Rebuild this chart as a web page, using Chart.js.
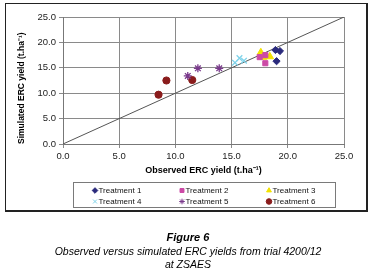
<!DOCTYPE html>
<html>
<head>
<meta charset="utf-8">
<script src="https://cdn.jsdelivr.net/npm/chart.js@4.4.1/dist/chart.umd.min.js"></script>
<style>
  html, body { margin:0; padding:0; background:#fff; }
  body { width:369px; height:276px; position:relative; overflow:hidden; font-family:"Liberation Sans", Arial, sans-serif; }
  #frame { position:absolute; left:5px; top:3px; width:360px; height:206px; border:1px solid #222; border-right-width:2px; border-bottom-width:2px; }
  canvas { position:absolute; left:0; top:0; }
  #caption { position:absolute; left:0; width:376px; top:231px; text-align:center; color:#000; font-style:italic; font-size:10.5px; line-height:13.5px; }
  #caption b { font-size:11px; }
</style>
</head>
<body>
<div id="frame"></div>
<canvas id="c" width="369" height="276"></canvas>
<div id="caption"><b>Figure 6</b><br>Observed versus simulated ERC yields from trial 4200/12<br>at ZSAES</div>
<script>
// ---- data ----
const treatments = ['Treatment 1','Treatment 2','Treatment 3','Treatment 4','Treatment 5','Treatment 6'];
const t1Observed  = [18.9, 19.3, 19.0];
const t1Simulated = [18.5, 18.3, 16.3];
const t2Observed  = [17.5, 18.0, 18.0];
const t2Simulated = [17.1, 17.5, 15.9];
const t3Observed  = [17.6, 17.8, 18.4];
const t3Simulated = [18.0, 17.1, 17.2];
const t4Observed  = [15.3, 15.7, 16.1];
const t4Simulated = [16.0, 16.9, 16.4];
const t5Observed  = [11.1, 12.0, 13.9];
const t5Simulated = [13.4, 14.9, 14.9];
const t6Observed  = [8.5, 9.2, 11.5];
const t6Simulated = [9.7, 12.5, 12.6];
const oneToOne    = [0, 25];
const tickLabels  = ['0.0','5.0','10.0','15.0','20.0','25.0'];

const FAM = '"Liberation Sans", Arial, sans-serif';
const pts = (xs, ys) => xs.map((x, i) => ({x, y: ys[i]}));

const styles = [
  {pointStyle:'rectRot',  color:'#2a2a7c', r:3.6},
  {pointStyle:'rect',     color:'#cc4aa6', r:3.6},
  {pointStyle:'triangle', color:'#f2e200', r:4.3},
  {pointStyle:'crossRot', color:'#7fd3ea', r:4},
  {pointStyle:'star',     color:'#7a3a8c', r:4},
  {pointStyle:'circle',   color:'#8a1c1c', r:3.6}
];
const series = [
  pts(t1Observed, t1Simulated), pts(t2Observed, t2Simulated), pts(t3Observed, t3Simulated),
  pts(t4Observed, t4Simulated), pts(t5Observed, t5Simulated), pts(t6Observed, t6Simulated)
];

const datasets = treatments.map((name, i) => ({
  type:'scatter', label:name, data:series[i],
  pointStyle:styles[i].pointStyle, pointRadius:styles[i].r,
  backgroundColor:styles[i].color, borderColor:styles[i].color,
  pointBorderWidth:(styles[i].pointStyle==='crossRot'||styles[i].pointStyle==='star')?1.3:1
}));
datasets.push({
  type:'line', label:'1:1', data:pts(oneToOne, oneToOne), hideLegend:true,
  borderColor:'#555', borderWidth:1, pointRadius:0, fill:false
});

const legendBox = {
  id:'legendBox',
  afterDraw(chart){
    const ctx = chart.ctx;
    ctx.save();
    ctx.strokeStyle = '#7a7a7a'; ctx.lineWidth = 1;
    ctx.strokeRect(73.5, 182.5, 262, 25);
    const colX = [95, 182, 269], rowY = [190.5, 201.5];
    let k = 0;
    chart.data.datasets.forEach(ds => {
      if (ds.hideLegend) return;
      const x = colX[k % 3], y = rowY[Math.floor(k / 3)];
      ctx.fillStyle = ds.backgroundColor; ctx.strokeStyle = ds.borderColor; ctx.lineWidth = 1;
      Chart.helpers.drawPoint(ctx, {pointStyle:ds.pointStyle, radius:2.8, borderWidth:1, rotation:0}, x, y);
      ctx.fillStyle = '#111';
      ctx.font = '8px ' + FAM;
      ctx.textBaseline = 'middle'; ctx.textAlign = 'left';
      ctx.fillText(ds.label, x + 3.5, y + 0.5);
      k++;
    });
    ctx.restore();
  }
};

new Chart(document.getElementById('c'), {
  data:{datasets},
  options:{
    responsive:false, animation:false,
    layout:{padding:{left:17, top:17, right:25, bottom:100}},
    plugins:{legend:{display:false}, tooltip:{enabled:false}},
    scales:{
      x:{
        type:'linear', min:0, max:25,
        ticks:{stepSize:5, callback:(v, i) => tickLabels[i], color:'#222', font:{family:FAM, size:9.5}, padding:3, maxRotation:0},
        grid:{color:'#8a8a8a', tickLength:4, lineWidth:1},
        border:{color:'#777'},
        title:{display:true, text:'Observed ERC yield (t.ha⁻¹)', color:'#000', font:{family:FAM, size:9, weight:'bold'}, padding:0},
        afterFit(s){ s.height = 32; }
      },
      y:{
        type:'linear', min:0, max:25,
        ticks:{stepSize:5, callback:(v, i) => tickLabels[i], color:'#222', font:{family:FAM, size:9.5}, padding:3},
        grid:{color:'#8a8a8a', tickLength:4, lineWidth:1},
        border:{color:'#777'},
        title:{display:true, align:'start', text:'Simulated ERC yield (t.ha⁻¹)', color:'#000', font:{family:FAM, size:8.5, weight:'bold'}, padding:0},
        afterFit(s){ s.width = 46; }
      }
    }
  },
  plugins:[legendBox]
});
</script>
</body>
</html>
